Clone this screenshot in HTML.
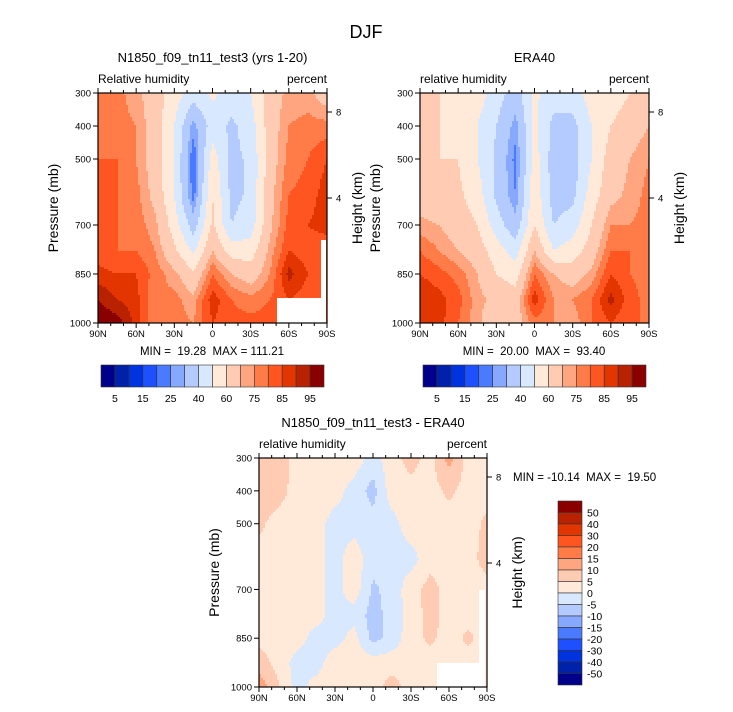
<!DOCTYPE html>
<html><head><meta charset="utf-8"><style>
body{margin:0;background:#fff;}
svg{display:block;font-family:"Liberation Sans",sans-serif;}
</style></head><body>
<svg id="s" width="733" height="712" viewBox="0 0 733 712">
<text x="366" y="38" text-anchor="middle" font-size="18">DJF</text>
</svg>
<script>
const lats=["90N","60N","30N","0","30S","60S","90S"];
const presTicks=[300,400,500,700,850,1000];
const presTickY=[0,33,66,132,181,230];
const rowPres=[300,400,500,600,700,775,850,925,1000];
const rhThresholds=[5,10,15,20,25,30,40,50,60,70,75,80,85,90,95];
const rhLabels=["5","15","25","40","60","75","85","95"];
const diffThresholds=[-50,-40,-30,-20,-15,-10,-5,0,5,10,15,20,30,40,50];
const diffLabels=["50","40","30","20","15","10","5","0","-5","-10","-15","-20","-30","-40","-50"];
const palette=["#00008a","#0022aa","#0033e0","#1f50ff","#4a7bff","#86a8ff","#b4cbff","#d8e8ff","#ffe9d8","#ffcbb2","#ffa580","#ff7c48","#ff5520","#e33500","#b82200","#8a0000"];
// columns 90N..90S every 15 deg; rows 300..1000 mb
const modelRH=[
[77,77,72,65,55,45,52,45,50,65,72,72,65],
[80,77,75,65,50,27,45,38,45,65,75,77,77],
[80,80,75,65,50,20,55,37,42,65,77,80,85],
[80,80,77,67,50,22,60,37,42,67,80,82,88],
[80,80,78,72,55,35,62,40,45,68,82,85,88],
[82,80,80,75,62,48,70,55,55,72,85,82,80],
[87,85,85,78,72,62,80,70,65,75,92,85,80],
[95,90,87,75,77,72,88,80,77,80,85,82,80],
[100,98,88,75,77,75,85,82,82,82,82,80,80]];
const eraRH=[
[60,60,55,55,45,35,52,45,45,55,55,60,60],
[60,60,58,50,40,27,52,37,37,50,60,65,70],
[60,60,60,50,38,23,55,35,35,50,65,70,75],
[65,62,62,55,38,25,57,35,37,55,67,72,77],
[72,70,65,60,45,33,60,40,45,60,75,75,77],
[80,75,70,65,55,45,70,50,55,65,80,80,78],
[85,82,78,70,60,55,80,70,65,72,85,80,78],
[90,87,82,72,68,65,88,75,75,80,92,82,78],
[87,87,80,72,62,65,78,75,72,80,85,80,80]];
const diffRH=[
[8,8,3,3,3,3,-2,3,7,3,12,3,3],
[8,7,3,3,2,-2,-7,3,3,3,6,3,3],
[6,3,3,2,-2,-2,-3,-2,3,2,3,3,6],
[3,3,2,2,-2,3,-3,-2,-2,3,3,3,7],
[2,2,2,2,-2,3,-6,-3,3,7,3,3,3],
[2,3,3,2,-2,-2,-7,-3,2,7,3,3,3],
[3,3,2,-2,-2,2,-7,-3,3,6,3,6,3],
[8,3,-2,-2,3,3,3,3,3,3,3,3,3],
[13,6,-2,2,3,3,3,7,3,3,3,3,3]];
const statsText=["MIN =  19.28  MAX = 111.21","MIN =  20.00  MAX =  93.40","MIN = -10.14  MAX =  19.50"];

const NS="http://www.w3.org/2000/svg";
const svg=document.getElementById('s');
function mk(tag,attrs,parent){const e=document.createElementNS(NS,tag);for(const k in attrs)e.setAttribute(k,attrs[k]);(parent||svg).appendChild(e);return e;}
function txt(x,y,s,size,anchor,parent,extra){const t=mk('text',Object.assign({x:x,y:y,'font-size':size,'text-anchor':anchor||'start'},extra||{}),parent);t.textContent=s;return t;}
function yOfP(p,h){
  for(let i=0;i<presTicks.length-1;i++){const a=presTicks[i],b=presTicks[i+1];
    if(p>=a&&p<=b){const f=(Math.log(p)-Math.log(a))/(Math.log(b)-Math.log(a));return (presTickY[i]+f*(presTickY[i+1]-presTickY[i]))*h/230;}}
  return h;}
function classOf(v,th){let k=0;while(k<th.length&&v>=th[k])k++;return k;}
function panel(name,x0,y0,w,h,grid,th,title,l1,stats,statsPos,masks){
  const g=mk('g',{},svg);
  
  
  const rowY=rowPres.map(p=>yOfP(p,h));
  const step=2,nc=grid[0].length-1;
  const ncols=Math.ceil(w/step);
  for(let py=0;py<h;py+=step){
    const yc=py+step/2;let r=0;while(r<rowY.length-2&&yc>rowY[r+1])r++;
    const fy=Math.min(1,Math.max(0,(yc-rowY[r])/(rowY[r+1]-rowY[r])));
    let runStart=0,runCls=-1;
    for(let i=0;i<=ncols;i++){
      const px=Math.min(i*step,w);
      let cls=-2;
      if(i<ncols){const xc=Math.min(nc-1e-6,(px+step/2)/w*nc);const c=Math.min(nc-1,Math.floor(xc));const fx=xc-c;
        const v=(1-fy)*((1-fx)*grid[r][c]+fx*grid[r][c+1])+fy*((1-fx)*grid[r+1][c]+fx*grid[r+1][c+1]);
        cls=classOf(v,th);}
      if(cls!==runCls){if(runCls>=0){const re=mk('rect',{x:x0+runStart,y:y0+py,width:px-runStart+0.3,height:Math.min(step,h-py)+0.3,fill:palette[runCls]},g);
          
          }
        runStart=px;runCls=cls;}
    }
  }
  (masks||[]).forEach(m=>{const re=mk('rect',{x:m[0],y:m[1],width:m[2],height:m[3],fill:'#fff'},g);});
  mk('rect',{x:x0,y:y0,width:w,height:h,fill:'none',stroke:'#000','stroke-width':1.2},g);
  for(let d=0;d<=180;d+=10){const x=x0+d/180*w;const major=d%30===0;const L=major?5:3;
    mk('line',{x1:x,y1:y0,x2:x,y2:y0-L,stroke:'#000'},g);mk('line',{x1:x,y1:y0+h,x2:x,y2:y0+h+L,stroke:'#000'},g);}
  lats.forEach((s,i)=>{const t=txt(x0+i*w/6,y0+h+14,s,9.5,'middle',g);});
  presTicks.forEach((p,i)=>{const y=y0+presTickY[i]*h/230;mk('line',{x1:x0,y1:y,x2:x0-5,y2:y,stroke:'#000'},g);
    const t=txt(x0-7,y+3.5,String(p),9.5,'end',g);});
  [[8,19],[4,105]].forEach(k=>{const y=y0+k[1];mk('line',{x1:x0+w,y1:y,x2:x0+w+5,y2:y,stroke:'#000'},g);
    const t=txt(x0+w+9,y+3.5,String(k[0]),9.5,'start',g);});
  let t=txt(x0+w/2,y0-31,title,13,'middle',g);
  t=txt(x0,y0-10,l1,12,'start',g);
  t=txt(x0+w,y0-10,'percent',12,'end',g);
  t=txt(0,0,'Pressure (mb)',14,'middle',g,{transform:`translate(${x0-40},${y0+h/2}) rotate(-90)`});
  t=txt(0,0,'Height (km)',14,'middle',g,{transform:`translate(${x0+w+35},${y0+h/2}) rotate(-90)`});
  t=txt(statsPos[0],statsPos[1],stats,11.5,statsPos[2],g);t.style.whiteSpace='pre';
}
function hbar(name,x0,y0,w,h){const g=mk('g',{},svg);
  const bw=w/palette.length;
  palette.forEach((c,i)=>{const r=mk('rect',{x:x0+i*bw,y:y0,width:bw,height:h,fill:c,stroke:'#333','stroke-width':0.6},g);});
  rhLabels.forEach((s,i)=>{const t=txt(x0+(2*i+1)*bw,y0+h+15,s,10.5,'middle',g);});}
function vbar(name,x0,y0,w,h){const g=mk('g',{},svg);
  const bh=h/palette.length;
  palette.slice().reverse().forEach((c,i)=>{const r=mk('rect',{x:x0,y:y0+i*bh,width:w,height:bh,fill:c,stroke:'#333','stroke-width':0.6},g);});
  diffLabels.forEach((s,i)=>{const t=txt(x0+w+5,y0+(i+1)*bh+4,s,10.5,'start',g);});}

panel('model-panel',98,93,229,230,modelRH,rhThresholds,'N1850_f09_tn11_test3 (yrs 1-20)','Relative humidity',statsText[0],[212,355,'middle'],[[277,298,45,25],[321,240,5,83]]);
panel('era40-panel',420,93,229,230,eraRH,rhThresholds,'ERA40','relative humidity',statsText[1],[534,355,'middle'],[]);
panel('difference-panel',259,458,228,229,diffRH,diffThresholds,'N1850_f09_tn11_test3 - ERA40','relative humidity',statsText[2],[513,481,'start'],[[437,663,42,24],[479,590,6,97]]);
hbar('model-colorbar',101,365,223,22);
hbar('era40-colorbar',423,365,223,22);
vbar('difference-colorbar',558,501,24,184);
</script>
</body></html>
